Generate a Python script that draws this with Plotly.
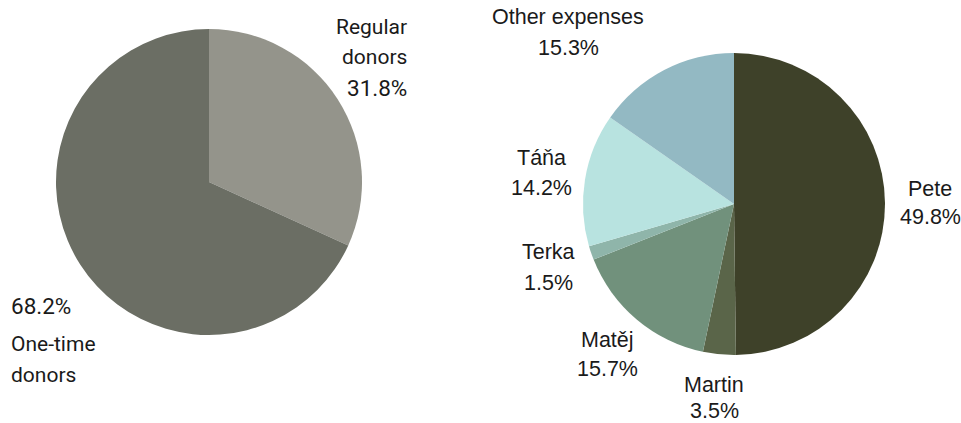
import plotly.graph_objects as go

# ---- data ----
donor_labels = ["Regular donors", "One-time donors"]
donor_values = [31.8, 68.2]
donor_colors = ["#94948b", "#6b6e64"]

expense_labels = ["Pete", "Martin", "Matěj", "Terka", "Táňa", "Other expenses"]
expense_values = [49.8, 3.5, 15.7, 1.5, 14.2, 15.3]
expense_colors = ["#3e4129", "#5a6549", "#71917c", "#8fb5aa", "#b8e3e0", "#93b9c3"]

W, H = 961, 423

fig = go.Figure()
fig.add_trace(go.Pie(
    labels=donor_labels, values=donor_values, sort=False, direction="clockwise",
    rotation=0, marker=dict(colors=donor_colors, line=dict(width=0)),
    textinfo="none", hoverinfo="label+percent",
    domain=dict(x=[56 / W, 362 / W], y=[1 - 335 / H, 1 - 29 / H]),
))
fig.add_trace(go.Pie(
    labels=expense_labels, values=expense_values, sort=False, direction="clockwise",
    rotation=0, marker=dict(colors=expense_colors, line=dict(width=0)),
    textinfo="none", hoverinfo="label+percent",
    domain=dict(x=[583 / W, 885 / W], y=[1 - 355 / H, 1 - 53 / H]),
))

ann = []


def add(text, px, py, anchor="center", family="Liberation Sans, Arial, sans-serif", size=21.5):
    ann.append(dict(text=text, x=px / W, y=1 - py / H, xref="paper", yref="paper",
                    xanchor=anchor, yanchor="middle", showarrow=False,
                    font=dict(family=family, size=size, color="#1a1a1a")))


roboto = "Roboto, sans-serif"
# left pie labels
reg = donor_labels[0].split(" ")
add(reg[0], 409, 27, "right", roboto, 21)
add(reg[1], 409, 57, "right", roboto, 21)
add(f"{donor_values[0]}%", 409, 88, "right", roboto, 22.5)
one = donor_labels[1].split(" ")
add(f"{donor_values[1]}%", 9, 306, "left", roboto, 22.5)
add(one[0], 9, 344, "left", roboto, 21)
add(one[1], 9, 375, "left", roboto, 21)

# right pie labels: (center x, name line y, value line y)
pos = {
    "Pete": (930, 189, 217),
    "Martin": (714, 385, 411),
    "Matěj": (607, 340, 369),
    "Terka": (548, 252, 283),
    "Táňa": (541, 158, 188),
    "Other expenses": (568, 17, 48),
}
for lab, val in zip(expense_labels, expense_values):
    x, y1, y2 = pos[lab]
    add(lab, x, y1)
    add(f"{val}%", x, y2)

fig.update_layout(
    width=W, height=H, margin=dict(l=0, r=0, t=0, b=0),
    paper_bgcolor="white", plot_bgcolor="white", showlegend=False,
    annotations=ann,
)
fig.write_html("out.html", config={"displayModeBar": False},
               post_script="document.body.style.margin='0';")
